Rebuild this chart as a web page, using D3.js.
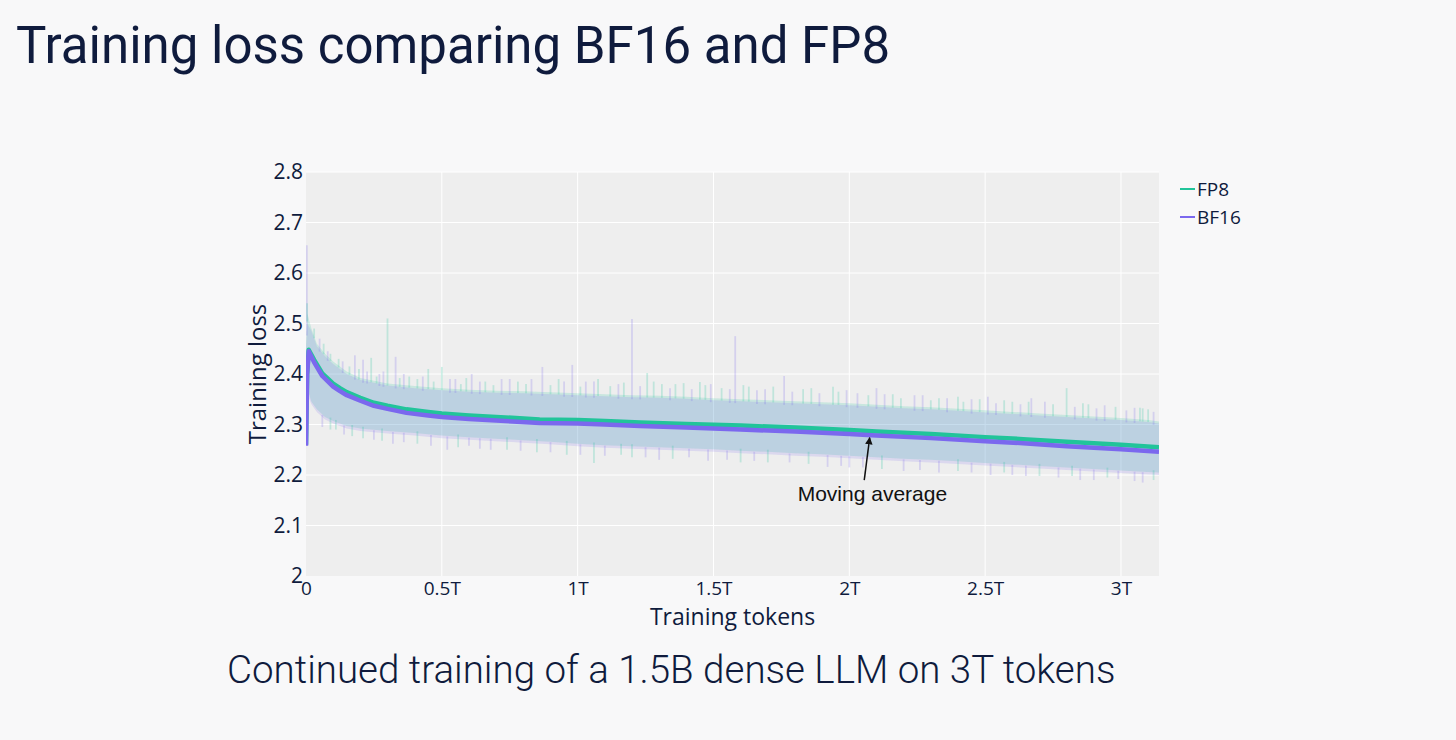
<!DOCTYPE html>
<html>
<head>
<meta charset="utf-8">
<script src="https://cdn.jsdelivr.net/npm/d3@7"></script>
<style>
  html, body { margin: 0; padding: 0; background: #f8f8f9; }
  #chart { width: 1456px; height: 740px; }
</style>
</head>
<body>
<div id="chart"></div>
<script>
// moving average (tokens in T)
var maTokens = [0, 0.004, 0.01, 0.03, 0.06, 0.1, 0.125, 0.15, 0.2, 0.25, 0.3, 0.37, 0.45, 0.5, 0.6, 0.7, 0.86, 1.0, 1.1, 1.23, 1.4, 1.6, 1.8, 2.0, 2.1, 2.3, 2.5, 2.64, 2.8, 3.0, 3.14];
var fp8Avg  = [2.26, 2.40, 2.448, 2.428, 2.401, 2.381, 2.372, 2.364, 2.353, 2.343, 2.337, 2.330, 2.325, 2.322, 2.318, 2.315, 2.310, 2.309, 2.307, 2.304, 2.301, 2.298, 2.294, 2.289, 2.286, 2.281, 2.275, 2.271, 2.266, 2.260, 2.255];
var bf16Avg = [2.26, 2.40, 2.447, 2.425, 2.398, 2.377, 2.368, 2.360, 2.349, 2.339, 2.333, 2.325, 2.320, 2.317, 2.313, 2.310, 2.305, 2.304, 2.302, 2.299, 2.296, 2.292, 2.288, 2.283, 2.280, 2.275, 2.269, 2.265, 2.259, 2.253, 2.248];

// raw loss envelope (dense part of the noisy traces)
var rawTokens = [0, 0.005, 0.02, 0.04, 0.07, 0.1, 0.15, 0.2, 0.3, 0.4, 0.5, 0.6, 0.7, 0.8, 0.9, 1.0, 1.1, 1.2, 1.3, 1.4, 1.5, 1.6, 1.7, 1.8, 1.9, 2.0, 2.1, 2.2, 2.3, 2.4, 2.5, 2.6, 2.7, 2.8, 2.9, 3.0, 3.1, 3.14];
var fp8High  = [2.46, 2.52, 2.49, 2.46, 2.44, 2.425, 2.405, 2.392, 2.381, 2.376, 2.372, 2.369, 2.367, 2.366, 2.364, 2.362, 2.360, 2.358, 2.357, 2.355, 2.352, 2.350, 2.348, 2.346, 2.344, 2.342, 2.339, 2.336, 2.334, 2.331, 2.328, 2.325, 2.322, 2.319, 2.316, 2.313, 2.309, 2.306];
var fp8Low   = [2.27, 2.37, 2.345, 2.330, 2.315, 2.307, 2.297, 2.292, 2.287, 2.283, 2.278, 2.275, 2.272, 2.269, 2.266, 2.262, 2.259, 2.257, 2.255, 2.253, 2.251, 2.248, 2.246, 2.243, 2.241, 2.238, 2.235, 2.232, 2.230, 2.227, 2.224, 2.221, 2.218, 2.215, 2.212, 2.209, 2.206, 2.205];
var bf16High = [2.45, 2.50, 2.485, 2.455, 2.435, 2.42, 2.40, 2.388, 2.377, 2.372, 2.368, 2.365, 2.363, 2.362, 2.360, 2.358, 2.356, 2.354, 2.353, 2.351, 2.348, 2.346, 2.344, 2.342, 2.340, 2.338, 2.335, 2.332, 2.330, 2.327, 2.324, 2.321, 2.318, 2.315, 2.312, 2.309, 2.305, 2.302];
var bf16Low  = [2.25, 2.36, 2.340, 2.325, 2.310, 2.302, 2.292, 2.287, 2.282, 2.278, 2.273, 2.270, 2.267, 2.264, 2.261, 2.257, 2.254, 2.252, 2.250, 2.248, 2.246, 2.243, 2.241, 2.238, 2.236, 2.233, 2.230, 2.227, 2.225, 2.222, 2.219, 2.216, 2.213, 2.210, 2.207, 2.204, 2.201, 2.200];

// single-step spikes sticking out of the envelope: [series, tokens, loss at tip]
var spikes = [
  ['bf16', 0.003, 2.655], ['fp8', 0.004, 2.54], ['fp8', 0.30, 2.51], ['bf16', 0.18, 2.437],
  ['bf16', 0.21, 2.428], ['fp8', 0.24, 2.432], ['bf16', 0.33, 2.434], ['fp8', 0.45, 2.41],
  ['fp8', 0.50, 2.414], ['bf16', 0.61, 2.40], ['bf16', 0.87, 2.414], ['bf16', 0.98, 2.418],
  ['bf16', 1.20, 2.509], ['fp8', 1.256, 2.402], ['fp8', 1.075, 2.39], ['bf16', 1.58, 2.475],
  ['bf16', 1.76, 2.396], ['fp8', 1.45, 2.384], ['fp8', 1.39, 2.382], ['fp8', 1.94, 2.375],
  ['bf16', 2.10, 2.372], ['fp8', 2.40, 2.355], ['bf16', 2.51, 2.355], ['bf16', 2.67, 2.352],
  ['fp8', 2.80, 2.372], ['fp8', 3.07, 2.333], ['bf16', 3.05, 2.333],
  ['fp8', 0.12, 2.43], ['bf16', 0.27, 2.40], ['fp8', 0.38, 2.395], ['bf16', 0.55, 2.39],
  ['fp8', 0.66, 2.385], ['bf16', 0.72, 2.39], ['fp8', 0.78, 2.385], ['fp8', 0.93, 2.39],
  ['bf16', 1.03, 2.385], ['bf16', 1.15, 2.38], ['fp8', 1.31, 2.38], ['bf16', 1.49, 2.38],
  ['fp8', 1.53, 2.372], ['fp8', 1.63, 2.375], ['bf16', 1.69, 2.37], ['fp8', 1.83, 2.37],
  ['bf16', 1.99, 2.368], ['fp8', 2.16, 2.36], ['bf16', 2.27, 2.358], ['fp8', 2.33, 2.352],
  ['bf16', 2.45, 2.35], ['fp8', 2.60, 2.345], ['bf16', 2.72, 2.345], ['fp8', 2.88, 2.34],
  ['bf16', 2.94, 2.338], ['fp8', 3.10, 2.33],
  ['fp8', 0.03, 2.49], ['bf16', 0.05, 2.47], ['fp8', 0.065, 2.46], ['bf16', 0.08, 2.445],
  ['fp8', 0.09, 2.44], ['bf16', 0.135, 2.425], ['fp8', 0.16, 2.415], ['fp8', 0.195, 2.41],
  ['bf16', 0.225, 2.405], ['fp8', 0.26, 2.395], ['bf16', 0.285, 2.405], ['fp8', 0.345, 2.392],
  ['bf16', 0.36, 2.40], ['fp8', 0.41, 2.39], ['bf16', 0.43, 2.395], ['fp8', 0.47, 2.385],
  ['bf16', 0.53, 2.39], ['fp8', 0.57, 2.38], ['fp8', 0.59, 2.392], ['bf16', 0.64, 2.385],
  ['fp8', 0.69, 2.378], ['bf16', 0.75, 2.39], ['fp8', 0.81, 2.38], ['bf16', 0.83, 2.39],
  ['fp8', 0.90, 2.378], ['bf16', 0.95, 2.385], ['fp8', 1.01, 2.375], ['bf16', 1.06, 2.385],
  ['fp8', 1.12, 2.376], ['fp8', 1.17, 2.383], ['bf16', 1.23, 2.376], ['fp8', 1.28, 2.385],
  ['bf16', 1.34, 2.372], ['fp8', 1.36, 2.38], ['bf16', 1.42, 2.37], ['fp8', 1.47, 2.378],
  ['bf16', 1.56, 2.37], ['fp8', 1.61, 2.378], ['bf16', 1.66, 2.368], ['fp8', 1.72, 2.375],
  ['bf16', 1.79, 2.365], ['fp8', 1.86, 2.372], ['bf16', 1.89, 2.362], ['fp8', 1.96, 2.365],
  ['bf16', 2.03, 2.362], ['fp8', 2.07, 2.358], ['bf16', 2.13, 2.36], ['fp8', 2.19, 2.352],
  ['bf16', 2.24, 2.358], ['fp8', 2.30, 2.348], ['bf16', 2.36, 2.352], ['fp8', 2.42, 2.345],
  ['fp8', 2.48, 2.35], ['bf16', 2.54, 2.342], ['fp8', 2.57, 2.348], ['bf16', 2.63, 2.34],
  ['fp8', 2.66, 2.345], ['fp8', 2.75, 2.34], ['bf16', 2.83, 2.335], ['fp8', 2.86, 2.342],
  ['bf16', 2.91, 2.332], ['fp8', 2.98, 2.335], ['bf16', 3.02, 2.328], ['fp8', 3.08, 2.332],
  ['bf16', 3.12, 2.325],
  // downward
  ['fp8', 0.21, 2.273], ['bf16', 0.52, 2.25], ['fp8', 1.06, 2.224], ['bf16', 1.30, 2.23],
  ['bf16', 1.92, 2.216], ['fp8', 0.11, 2.29], ['bf16', 0.32, 2.262], ['bf16', 0.68, 2.25],
  ['fp8', 0.85, 2.245], ['bf16', 1.48, 2.228], ['fp8', 1.70, 2.225], ['bf16', 2.20, 2.208],
  ['bf16', 2.45, 2.205], ['fp8', 2.70, 2.198], ['bf16', 2.85, 2.19], ['bf16', 3.05, 2.188],
  ['fp8', 1.20, 2.235], ['bf16', 2.00, 2.215], ['bf16', 2.60, 2.20], ['fp8', 2.95, 2.195],
  ['bf16', 0.06, 2.295], ['fp8', 0.09, 2.29], ['bf16', 0.14, 2.28], ['fp8', 0.17, 2.277],
  ['bf16', 0.25, 2.27], ['fp8', 0.28, 2.268], ['bf16', 0.36, 2.265], ['fp8', 0.41, 2.262],
  ['bf16', 0.46, 2.258], ['fp8', 0.56, 2.255], ['bf16', 0.60, 2.258], ['bf16', 0.64, 2.252],
  ['fp8', 0.74, 2.25], ['bf16', 0.79, 2.248], ['bf16', 0.90, 2.245], ['fp8', 0.96, 2.24],
  ['bf16', 1.01, 2.24], ['bf16', 1.10, 2.238], ['fp8', 1.16, 2.24], ['bf16', 1.25, 2.235],
  ['fp8', 1.35, 2.232], ['bf16', 1.41, 2.235], ['bf16', 1.55, 2.23], ['fp8', 1.60, 2.225],
  ['bf16', 1.65, 2.228], ['bf16', 1.78, 2.225], ['fp8', 1.85, 2.222], ['bf16', 1.97, 2.218],
  ['bf16', 2.05, 2.215], ['fp8', 2.12, 2.212], ['bf16', 2.26, 2.21], ['bf16', 2.33, 2.205],
  ['fp8', 2.40, 2.208], ['bf16', 2.52, 2.20], ['fp8', 2.57, 2.205], ['bf16', 2.65, 2.198],
  ['bf16', 2.77, 2.195], ['fp8', 2.82, 2.198], ['bf16', 2.90, 2.19], ['bf16', 2.99, 2.192],
  ['bf16', 3.08, 2.185], ['fp8', 3.12, 2.19]
];

var xTicks = [0, 0.5, 1, 1.5, 2, 2.5, 3];
var xTickLabels = ['0', '0.5T', '1T', '1.5T', '2T', '2.5T', '3T'];
var yTicks = [2, 2.1, 2.2, 2.3, 2.4, 2.5, 2.6, 2.7, 2.8];
var yTickLabels = ['2', '2.1', '2.2', '2.3', '2.4', '2.5', '2.6', '2.7', '2.8'];
var seriesNames = ['FP8', 'BF16'];

var colors = { fp8: '#21c49a', bf16: '#7b68ee' };
var ink = '#0f1b3d';

var margin = { top: 172, right: 297, bottom: 164, left: 306 };
var width = 1456 - margin.left - margin.right;
var height = 740 - margin.top - margin.bottom;

var svg = d3.select('#chart').append('svg')
  .attr('width', 1456)
  .attr('height', 740);

// slide title and caption
svg.append('text')
  .attr('x', 16).attr('y', 63)
  .style('font-family', 'Roboto, sans-serif')
  .style('font-size', '51px')
  .style('fill', ink)
  .text('Training loss comparing BF16 and FP8');

svg.append('text')
  .attr('x', 227).attr('y', 683)
  .style('font-family', 'Roboto, sans-serif')
  .style('font-weight', 300)
  .style('font-size', '38.5px')
  .style('fill', ink)
  .text('Continued training of a 1.5B dense LLM on 3T tokens');

var x = d3.scaleLinear().domain([0, 3.14]).range([0, width]);
var y = d3.scaleLinear().domain([2, 2.8]).range([height, 0]);

var g = svg.append('g')
  .attr('transform', 'translate(' + margin.left + ',' + margin.top + ')');

g.append('rect')
  .attr('width', width).attr('height', height)
  .attr('fill', '#eeeeee');

// gridlines
g.append('g')
  .selectAll('line')
  .data(xTicks.filter(function (d) { return d > 0; }))
  .enter().append('line')
  .attr('x1', function (d) { return x(d); })
  .attr('x2', function (d) { return x(d); })
  .attr('y1', 0).attr('y2', height)
  .attr('stroke', '#ffffff').attr('stroke-width', 1);

g.append('g')
  .selectAll('line')
  .data(yTicks.filter(function (d) { return d > 2; }))
  .enter().append('line')
  .attr('y1', function (d) { return y(d); })
  .attr('y2', function (d) { return y(d); })
  .attr('x1', 0).attr('x2', width)
  .attr('stroke', '#ffffff').attr('stroke-width', 1);

g.append('clipPath').attr('id', 'plotclip')
  .append('rect').attr('width', width).attr('height', height);

var plot = g.append('g').attr('clip-path', 'url(#plotclip)');

// raw envelopes
var rawRows = rawTokens.map(function (t, i) {
  return { t: t, fh: fp8High[i], fl: fp8Low[i], bh: bf16High[i], bl: bf16Low[i] };
});

var fp8Area = d3.area()
  .x(function (d) { return x(d.t); })
  .y0(function (d) { return y(d.fl); })
  .y1(function (d) { return y(d.fh); });

var bf16Area = d3.area()
  .x(function (d) { return x(d.t); })
  .y0(function (d) { return y(d.bl); })
  .y1(function (d) { return y(d.bh); });

plot.append('path').datum(rawRows)
  .attr('d', fp8Area)
  .attr('fill', colors.fp8).attr('fill-opacity', 0.18);

plot.append('path').datum(rawRows)
  .attr('d', bf16Area)
  .attr('fill', colors.bf16).attr('fill-opacity', 0.17);

// look up a value between the read-off points
var valueAt = function (ts, vs, t) {
  var i = d3.bisectLeft(ts, t);
  if (i <= 0) return vs[0];
  if (i >= ts.length) return vs[vs.length - 1];
  var t0 = ts[i - 1], t1 = ts[i];
  return vs[i - 1] + (vs[i] - vs[i - 1]) * (t - t0) / (t1 - t0);
};

// spikes start at the edge of their own envelope
var spikeBase = function (d) {
  var avg = valueAt(maTokens, d[0] === 'fp8' ? fp8Avg : bf16Avg, d[1]);
  if (d[2] > avg) {
    return valueAt(rawTokens, d[0] === 'fp8' ? fp8High : bf16High, d[1]) - 0.004;
  }
  return valueAt(rawTokens, d[0] === 'fp8' ? fp8Low : bf16Low, d[1]) + 0.004;
};

plot.selectAll('.spike')
  .data(spikes)
  .enter().append('line')
  .attr('class', 'spike')
  .attr('x1', function (d) { return x(d[1]); })
  .attr('x2', function (d) { return x(d[1]); })
  .attr('y1', function (d) { return y(spikeBase(d)); })
  .attr('y2', function (d) { return y(d[2]); })
  .attr('stroke', function (d) { return colors[d[0]]; })
  .attr('stroke-opacity', 0.22)
  .attr('stroke-width', 1.8);

// moving averages
var avgLine = d3.line()
  .x(function (d, i) { return x(maTokens[i]); })
  .y(function (d) { return y(d); });

plot.append('path').datum(fp8Avg)
  .attr('d', avgLine)
  .attr('fill', 'none')
  .attr('stroke', colors.fp8).attr('stroke-width', 4.5)
  .attr('stroke-linejoin', 'round');

plot.append('path').datum(bf16Avg)
  .attr('d', avgLine)
  .attr('fill', 'none')
  .attr('stroke', colors.bf16).attr('stroke-width', 4.5)
  .attr('stroke-linejoin', 'round')
  .attr('transform', 'translate(0,1)');

// axes
var xAxis = d3.axisBottom(x)
  .tickValues(xTicks)
  .tickSize(0)
  .tickPadding(5)
  .tickFormat(function (d, i) { return xTickLabels[i]; });

var yAxis = d3.axisLeft(y)
  .tickValues(yTicks)
  .tickSize(0)
  .tickPadding(3)
  .tickFormat(function (d, i) { return yTickLabels[i]; });

var xa = g.append('g')
  .attr('transform', 'translate(0,' + height + ')')
  .call(xAxis);
xa.select('.domain').remove();
xa.selectAll('text')
  .style('font-family', '"Open Sans", sans-serif')
  .style('font-size', '19px')
  .style('fill', ink);

var ya = g.append('g').call(yAxis);
ya.select('.domain').remove();
ya.selectAll('text')
  .style('font-family', '"Open Sans", sans-serif')
  .style('font-size', '21px')
  .style('fill', ink);

g.append('text')
  .attr('x', x(1.57)).attr('y', height + 49)
  .attr('text-anchor', 'middle')
  .style('font-family', '"Open Sans", sans-serif')
  .style('font-size', '23px')
  .style('fill', ink)
  .text('Training tokens');

g.append('text')
  .attr('transform', 'translate(-40,' + y(2.4) + ') rotate(-90)')
  .attr('text-anchor', 'middle')
  .style('font-family', '"Open Sans", sans-serif')
  .style('font-size', '24px')
  .style('fill', ink)
  .text('Training loss');

// annotation
g.append('defs').append('marker')
  .attr('id', 'arrowhead')
  .attr('viewBox', '0 0 10 10')
  .attr('refX', 9).attr('refY', 5)
  .attr('markerWidth', 5).attr('markerHeight', 5)
  .attr('orient', 'auto')
  .append('path').attr('d', 'M0,0 L10,5 L0,10 z').attr('fill', '#111');

g.append('line')
  .attr('x1', x(2.055)).attr('y1', y(2.19))
  .attr('x2', x(2.075)).attr('y2', y(2.274))
  .attr('stroke', '#111').attr('stroke-width', 1.5)
  .attr('marker-end', 'url(#arrowhead)');

g.append('text')
  .attr('x', x(2.085)).attr('y', y(2.148))
  .attr('text-anchor', 'middle')
  .style('font-family', 'Arial, "Liberation Sans", sans-serif')
  .style('font-size', '21px')
  .style('fill', '#111')
  .text('Moving average');

// legend
var legend = svg.append('g').attr('transform', 'translate(1180,189)');
var legendColors = [colors.fp8, colors.bf16];
var items = legend.selectAll('g')
  .data(seriesNames)
  .enter().append('g')
  .attr('transform', function (d, i) { return 'translate(0,' + (i * 28) + ')'; });
items.append('line')
  .attr('x1', 0).attr('x2', 15)
  .attr('stroke', function (d, i) { return legendColors[i]; })
  .attr('stroke-width', 2);
items.append('text')
  .attr('x', 17).attr('y', 7)
  .style('font-family', '"Open Sans", sans-serif')
  .style('font-size', '19px')
  .style('fill', ink)
  .text(function (d) { return d; });
</script>
</body>
</html>
